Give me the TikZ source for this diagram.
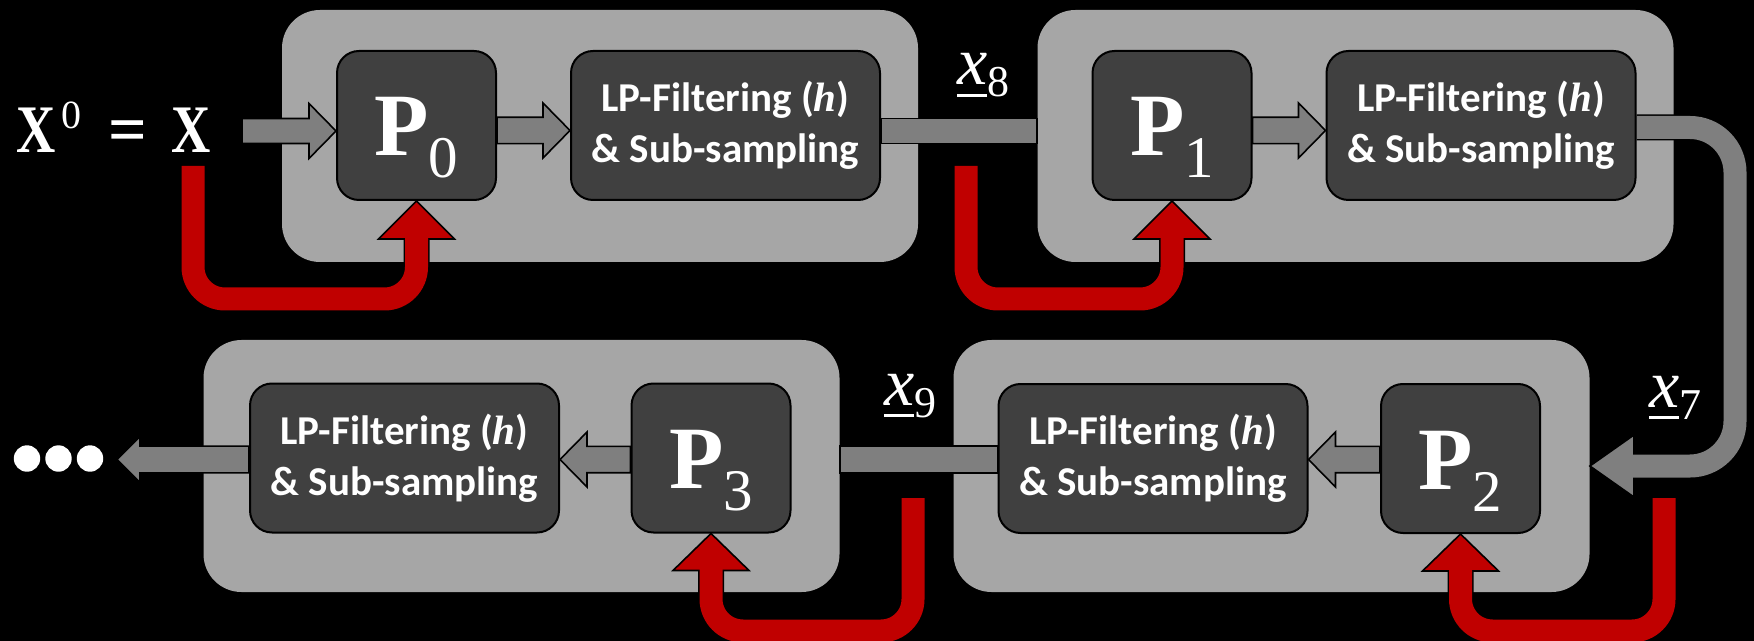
\documentclass[tikz,border=0pt]{standalone}
\usepackage{fontspec}
\usepackage{graphicx}
\usetikzlibrary{calc}
\newfontfamily\lpfont{Carlito}
\newfontfamily\tnr{Liberation Serif}
\definecolor{grpgray}{HTML}{A6A6A6}
\definecolor{boxdark}{HTML}{404040}
\definecolor{arrgray}{HTML}{7F7F7F}
\definecolor{redarr}{HTML}{C00000}
\pgfdeclarelayer{grp}
\pgfdeclarelayer{arr}
\pgfsetlayers{grp,arr,main}
% horizontal block arrow: from, to, colour, dir, shaft half, head half, head length
\newcommand{\harrow}[7]{%
  \draw[arrowedge,fill=#3] let \p1=(#1), \p2=(#2) in
   (\x1,{\y1+#5}) -- ({\x2-(#4)*(#7)},{\y1+#5}) -- ({\x2-(#4)*(#7)},{\y1+#6})
   -- (\x2,\y1) -- ({\x2-(#4)*(#7)},{\y1-#6}) -- ({\x2-(#4)*(#7)},{\y1-#5})
   -- (\x1,{\y1-#5}) -- cycle;}
\newcommand{\plainbar}[3]{%
  \draw[arrowedge,fill=arrgray] let \p1=(#1), \p2=(#2) in
   (\x1,{\y1+#3}) rectangle (\x2,{\y1-#3});}
% upward head: tip, colour, half width, length
\newcommand{\uphead}[4]{%
  \draw[arrowedge,fill=#2] let \p1=(#1) in
   (\x1,\y1) -- ({\x1-#3},{\y1-#4}) -- ({\x1+#3},{\y1-#4}) -- cycle;}
% leftward head: tip, colour, half width, length
\newcommand{\lefthead}[4]{%
  \draw[arrowedge,fill=#2] let \p1=(#1) in
   (\x1,\y1) -- ({\x1+#4},{\y1+#3}) -- ({\x1+#4},{\y1-#3}) -- cycle;}
\newcommand{\ptext}[1]{\rule{0pt}{41.5pt}{\tnr\bfseries\fontsize{44.5}{44.5}\selectfont P}\raisebox{-11pt}{\tnr\fontsize{29.5}{29.5}\selectfont #1}}
\newcommand{\ulx}[1]{{\tnr\itshape\fontsize{34}{34}\selectfont\makebox[0pt][l]{\rule[-6.2pt]{15pt}{1.7pt}}x}\raisebox{-6pt}{\tnr\fontsize{22}{22}\selectfont #1}}
\newcommand{\lph}{{\tnr\bfseries\itshape h}}
\begin{document}
\begin{tikzpicture}[x=0.5pt,y=-0.5pt,
  arrowedge/.style={draw=black,line width=0.8pt,line join=miter},
  grp/.style={fill=grpgray,rounded corners=19pt,minimum width=318pt,minimum height=126pt,inner sep=0pt},
  pbox/.style={fill=boxdark,draw=black,line width=1pt,rounded corners=11pt,minimum width=79.5pt,minimum height=74.5pt,inner sep=0pt,text=white},
  lpbox/.style={pbox,minimum width=154.5pt,align=center,font=\lpfont\bfseries\fontsize{20.5}{25.5}\selectfont},
  lbl/.style={text=white,inner sep=0pt}]
\begin{pgfonlayer}{grp}
\fill[black] (0,0) rectangle (1754,641);
\node[grp] (G1) at (600,136) {};
\node[grp] (G2) at (1355.5,136) {};
\node[grp] (G3) at (521.5,466) {};
\node[grp] (G4) at (1271.5,466) {};
\end{pgfonlayer}
\useasboundingbox (0,0) rectangle (1754,641);
% inner boxes
\node[pbox] (P0) at (416.5,125.5) {\ptext{0}};
\node[lpbox] (L1) at (725.5,125.5) {LP-Filtering (\lph)\\\& Sub-sampling};
\node[pbox] (P1) at (1172,125.5) {\ptext{1}};
\node[lpbox] (L2) at (1481,125.5) {LP-Filtering (\lph)\\\& Sub-sampling};
\node[pbox] (P2) at (1460.5,458.5) {\ptext{2}};
\node[lpbox] (L3) at (1153,458.5) {LP-Filtering (\lph)\\\& Sub-sampling};
\node[pbox] (P3) at (711,458) {\ptext{3}};
\node[lpbox] (L4) at (404.5,458) {LP-Filtering (\lph)\\\& Sub-sampling};
% labels
\node[lbl,anchor=base west] (X) at (16,153) {\tnr\bfseries\fontsize{34}{34}\selectfont\scalebox{0.8}[1]{X}\kern3pt\raisebox{12pt}{\mdseries\fontsize{20}{20}\selectfont 0}\kern13.5pt=\kern12pt\scalebox{0.8}[1]{X}};
\node[lbl,anchor=base west] (x8) at (957,85) {\ulx{8}};
\node[lbl,anchor=base west] (x9) at (884,405) {\ulx{9}};
\node[lbl,anchor=base west] (x7) at (1649,407) {\ulx{7}};
% dots
\coordinate (dotsend) at (117,459.5);
\fill[white] (27,458.5) circle[radius=6.6pt] (58.5,458.5) circle[radius=6.6pt] (90,458.5) circle[radius=6.6pt];
\coordinate (in) at (242,131);
\coordinate (ecorner) at (1735,466);
\coordinate (r1) at (193,166);
\coordinate (r2) at (966,166);
\coordinate (r3) at (1664,498);
\coordinate (r4) at (913,498);
\begin{pgfonlayer}{arr}
% gray straight arrows
\harrow{in}{P0.west}{arrgray}{1}{6.25pt}{13.75pt}{13.5pt}
\harrow{$(P0.east)+(0,5)$}{L1.west}{arrgray}{1}{6.6pt}{13.75pt}{13.5pt}
\plainbar{$(L1.east)+(0,5.5)$}{G2.west}{6.2pt}
\harrow{$(P1.east)+(0,5)$}{L2.west}{arrgray}{1}{6.6pt}{13.75pt}{13.5pt}
\harrow{$(P2.west)+(0,1)$}{L3.east}{arrgray}{-1}{6.6pt}{13.75pt}{13.5pt}
\plainbar{$(L3.west)+(0,1)$}{G3.east}{6.7pt}
\harrow{$(P3.west)+(0,1.5)$}{L4.east}{arrgray}{-1}{6.6pt}{13.75pt}{13.5pt}
\harrow{$(L4.west)+(0,1.5)$}{dotsend}{arrgray}{-1}{6.7pt}{11.5pt}{11.5pt}
% elbow arrow L2 -> G4
\draw[black,line width=13pt,rounded corners=22.5pt] ($(L2.east)+(0,2)$) -| (ecorner) -- ($(G4.east)+(44,0)$);
\lefthead{G4.east}{arrgray}{15.5pt}{22pt}
\draw[arrgray,line width=11.5pt,rounded corners=22.5pt] ($(L2.east)+(0,2)$) -| (ecorner) -- ($(G4.east)+(42,0)$);
% red feedback arrows
\draw[black,line width=13pt,rounded corners=16pt] (r1) |- ($(P0.south)+(0,98)$) -- ($(P0.south)+(0,38)$);
\uphead{P0.south}{redarr}{19pt}{19pt}
\draw[redarr,line width=11.5pt,rounded corners=16pt] (r1) |- ($(P0.south)+(0,98)$) -- ($(P0.south)+(0,36)$);
\draw[black,line width=13pt,rounded corners=16pt] (r2) |- ($(P1.south)+(0,98)$) -- ($(P1.south)+(0,38)$);
\uphead{P1.south}{redarr}{19pt}{19pt}
\draw[redarr,line width=11.5pt,rounded corners=16pt] (r2) |- ($(P1.south)+(0,98)$) -- ($(P1.south)+(0,36)$);
\draw[black,line width=13pt,rounded corners=16pt] (r3) |- ($(P2.south)+(0,97)$) -- ($(P2.south)+(0,37)$);
\uphead{P2.south}{redarr}{19pt}{18.5pt}
\draw[redarr,line width=11.5pt,rounded corners=16pt] (r3) |- ($(P2.south)+(0,97)$) -- ($(P2.south)+(0,35)$);
\draw[black,line width=13pt,rounded corners=16pt] (r4) |- ($(P3.south)+(0,97.5)$) -- ($(P3.south)+(0,37)$);
\uphead{P3.south}{redarr}{19pt}{18.5pt}
\draw[redarr,line width=11.5pt,rounded corners=16pt] (r4) |- ($(P3.south)+(0,97.5)$) -- ($(P3.south)+(0,35)$);
\end{pgfonlayer}
\end{tikzpicture}
\end{document}
